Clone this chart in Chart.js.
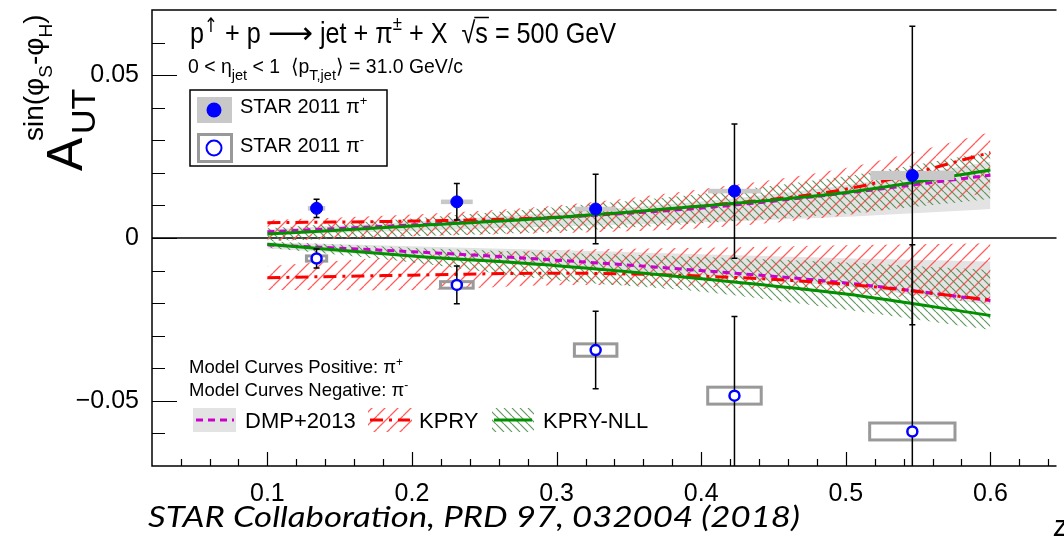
<!DOCTYPE html>
<html>
<head>
<meta charset="utf-8">
<script src="https://cdn.jsdelivr.net/npm/chart.js@4"></script>
<style>
  html, body { margin: 0; padding: 0; background: #fff; overflow: hidden; }
  canvas { display: block; }
</style>
</head>
<body>
<canvas id="c" width="1064" height="541"></canvas>
<script>
// STAR 2011 data points (z of the pion in the jet)
const zBins = [0.134, 0.231, 0.327, 0.423, 0.546];
const aPlus = [0.0091, 0.0111, 0.0089, 0.0144, 0.0192];
const statPlus = [0.0028, 0.0056, 0.0107, 0.0206, 0.0458];
const sysPlus = [0.0007, 0.0007, 0.0007, 0.0007, 0.0014];
const sysWidthPlus = [0.006, 0.011, 0.0143, 0.0183, 0.029];
const aMinus = [-0.0063, -0.0144, -0.0344, -0.0484, -0.0594];
const statMinus = [0.0029, 0.0058, 0.0119, 0.0243, 0.0573];
const sysMinus = [0.0008, 0.001, 0.0019, 0.0026, 0.0026];
const sysWidthMinus = [0.007, 0.0113, 0.0147, 0.0185, 0.0295];

// model curves
const zModel = [0.1, 0.2, 0.3, 0.4, 0.5, 0.6];
const dmpPos = [0.0019, 0.0040, 0.0063, 0.0092, 0.0138, 0.0193];
const dmpPosHi = [0.0027, 0.0050, 0.0078, 0.0112, 0.0162, 0.0234];
const dmpPosLo = [0.0009, 0.0022, 0.0035, 0.0048, 0.0065, 0.0089];
const dmpNeg = [-0.0021, -0.0042, -0.0068, -0.0100, -0.0138, -0.0192];
const dmpNegHi = [-0.0013, -0.0025, -0.0037, -0.0050, -0.0062, -0.0072];
const dmpNegLo = [-0.0032, -0.0058, -0.0088, -0.0115, -0.0150, -0.0205];
const kpryPos = [0.0047, 0.0052, 0.0064, 0.0098, 0.0150, 0.0262];
const kpryPosHi = [0.0055, 0.0072, 0.0100, 0.0150, 0.0215, 0.0325];
const kpryPosLo = [-0.0010, 0.0005, 0.0015, 0.0030, 0.0070, 0.0140];
const kpryNeg = [-0.0122, -0.0114, -0.0108, -0.0117, -0.0142, -0.0190];
const kpryNegHi = [-0.0086, -0.0055, -0.0037, -0.0030, -0.0022, -0.0016];
const kpryNegLo = [-0.0160, -0.0160, -0.0145, -0.0150, -0.0170, -0.0200];
const nllPos = [0.0012, 0.0037, 0.0063, 0.0098, 0.0140, 0.0209];
const nllPosHi = [0.0030, 0.0060, 0.0095, 0.0135, 0.0190, 0.0265];
const nllPosLo = [-0.0010, 0.0005, 0.0020, 0.0045, 0.0075, 0.0120];
const nllNeg = [-0.0019, -0.0055, -0.0085, -0.0125, -0.0172, -0.0238];
const nllNegHi = [-0.0010, -0.0030, -0.0045, -0.0058, -0.0075, -0.0098];
const nllNegLo = [-0.0030, -0.0075, -0.0130, -0.0165, -0.0220, -0.0282];

const xTicks = [0.1, 0.2, 0.3, 0.4, 0.5, 0.6];
const yTicks = [-0.05, 0, 0.05];

const FONT = '"Liberation Sans", Arial, sans-serif';
const canvas = document.getElementById('c');
const mainCtx = canvas.getContext('2d');

// hatch patterns like ROOT fill styles
function hatch(color, size, dir, lw) {
  const c = document.createElement('canvas');
  c.width = size; c.height = size;
  const g = c.getContext('2d');
  g.strokeStyle = color; g.lineWidth = lw;
  g.beginPath();
  for (let k = -1; k <= 1; k++) {
    if (dir > 0) { g.moveTo(k * size, size); g.lineTo(k * size + size, 0); }
    else { g.moveTo(k * size, 0); g.lineTo(k * size + size, size); }
  }
  g.stroke();
  return mainCtx.createPattern(c, 'repeat');
}
const redHatch = hatch('rgba(255,85,85,0.95)', 13, 1, 1.3);
const greenHatch = hatch('rgba(70,135,70,0.85)', 8, -1, 1.2);
const bandGray = '#e3e3e3';
const magenta = '#cc00cc', red = '#ff0000', green = '#009000';

const pts = arr => zModel.map((z, i) => ({ x: z, y: arr[i] }));

function band(hi, lo, fillStyle, order, idx) {
  return [
    { data: pts(hi), fill: idx + 1, backgroundColor: fillStyle, borderWidth: 0, pointRadius: 0, order: order, tension: 0.3 },
    { data: pts(lo), fill: false, borderWidth: 0, pointRadius: 0, order: order, tension: 0.3 }
  ];
}
function curve(arr, color, dash, order) {
  return { data: pts(arr), borderColor: color, borderWidth: 3, borderDash: dash, fill: false,
           pointRadius: 0, order: order, cubicInterpolationMode: 'monotone' };
}

const datasets = [
  ...band(dmpPosHi, dmpPosLo, bandGray, 60, 0),
  ...band(dmpNegHi, dmpNegLo, bandGray, 60, 2),
  ...band(kpryPosHi, kpryPosLo, redHatch, 50, 4),
  ...band(kpryNegHi, kpryNegLo, redHatch, 50, 6),
  ...band(nllPosHi, nllPosLo, greenHatch, 40, 8),
  ...band(nllNegHi, nllNegLo, greenHatch, 40, 10),
  curve(dmpPos, magenta, [7, 5], 30),
  curve(dmpNeg, magenta, [7, 5], 30),
  curve(kpryPos, red, [13, 6, 3, 6], 25),
  curve(kpryNeg, red, [13, 6, 3, 6], 25),
  curve(nllPos, green, [], 20),
  curve(nllNeg, green, [], 20),
  { data: zBins.map((z, i) => ({ x: z, y: aPlus[i] })), showLine: false, pointRadius: 6,
    pointBackgroundColor: '#0000ff', pointBorderColor: '#0000ff', pointBorderWidth: 1, order: 0 },
  { data: zBins.map((z, i) => ({ x: z, y: aMinus[i] })), showLine: false, pointRadius: 5,
    pointBackgroundColor: '#ffffff', pointBorderColor: '#0000ff', pointBorderWidth: 2.5, order: 1 }
];
const MINUS_IDX = datasets.length - 1;

// rich text: runs of {t, size, dy, font, sx}; returns the start x of every run plus the end
function runs(ctx, x, y, list, sx) {
  sx = sx || 1;
  ctx.textBaseline = 'alphabetic';
  ctx.textAlign = 'left';
  const xs = [];
  for (const r of list) {
    const o = typeof r === 'string' ? { t: r } : r;
    const s = sx * (o.sx || 1);
    ctx.font = (o.size || 20) + 'px ' + (o.font || FONT);
    xs.push(x);
    ctx.save();
    ctx.translate(x, y + (o.dy || 0));
    ctx.scale(s, 1);
    ctx.fillText(o.t, 0, 0);
    ctx.restore();
    x += ctx.measureText(o.t).width * s;
  }
  xs.push(x);
  return xs;
}

function drawErrors(chart) {
  const { ctx, chartArea: a } = chart;
  const x = chart.scales.x, y = chart.scales.y;
  ctx.save();
  ctx.beginPath();
  ctx.rect(a.left, a.top, a.right - a.left, a.bottom - a.top);
  ctx.clip();
  zBins.forEach((z, i) => {
    // systematic boxes
    const xl = x.getPixelForValue(z - sysWidthPlus[i]), xr = x.getPixelForValue(z + sysWidthPlus[i]);
    const yt = y.getPixelForValue(aPlus[i] + sysPlus[i]), yb = y.getPixelForValue(aPlus[i] - sysPlus[i]);
    ctx.fillStyle = '#c8c8c8';
    ctx.fillRect(xl, yt, xr - xl, yb - yt);
    const ml = x.getPixelForValue(z - sysWidthMinus[i]), mr = x.getPixelForValue(z + sysWidthMinus[i]);
    const mt = y.getPixelForValue(aMinus[i] + sysMinus[i]), mb = y.getPixelForValue(aMinus[i] - sysMinus[i]);
    ctx.strokeStyle = '#999999';
    ctx.lineWidth = 3;
    ctx.strokeRect(ml, mt, mr - ml, mb - mt);
  });
  ctx.strokeStyle = '#000';
  ctx.lineWidth = 1.5;
  const bar = (z, v, e) => {
    const px = x.getPixelForValue(z);
    const top = y.getPixelForValue(v + e), bot = y.getPixelForValue(v - e);
    ctx.beginPath();
    ctx.moveTo(px, top); ctx.lineTo(px, bot);
    ctx.moveTo(px - 3, top); ctx.lineTo(px + 3, top);
    ctx.moveTo(px - 3, bot); ctx.lineTo(px + 3, bot);
    ctx.stroke();
  };
  zBins.forEach((z, i) => {
    bar(z, aPlus[i], statPlus[i]);
    bar(z, aMinus[i], statMinus[i]);
  });
  ctx.restore();
}

const starPlugin = {
  id: 'star',
  beforeDatasetsDraw(chart) {
    const { ctx, chartArea: a } = chart;
    const y0 = chart.scales.y.getPixelForValue(0);
    ctx.save();
    ctx.strokeStyle = '#000';
    ctx.lineWidth = 1.5;
    ctx.beginPath();
    ctx.moveTo(a.left, y0); ctx.lineTo(a.right, y0);
    ctx.stroke();
    ctx.restore();
  },
  beforeDatasetDraw(chart, args) {
    if (args.index === MINUS_IDX) drawErrors(chart);
  },
  afterDraw(chart) {
    const { ctx, chartArea: a } = chart;
    const x = chart.scales.x, y = chart.scales.y;
    ctx.save();
    ctx.strokeStyle = '#000';
    ctx.lineWidth = 1.5;
    // frame (right side is cut off in the original)
    ctx.beginPath();
    ctx.moveTo(a.right, a.top); ctx.lineTo(a.left, a.top);
    ctx.lineTo(a.left, a.bottom); ctx.lineTo(a.right, a.bottom);
    ctx.stroke();
    // ticks inside the frame
    ctx.lineWidth = 1.2;
    ctx.beginPath();
    for (let k = 2; k <= 32; k++) {
      const px = Math.round(x.getPixelForValue(k * 0.02)) + 0.5;
      const len = k % 5 === 0 ? 14 : 7;
      ctx.moveTo(px, a.bottom); ctx.lineTo(px, a.bottom - len);
    }
    for (let k = -6; k <= 6; k++) {
      const py = Math.round(y.getPixelForValue(k * 0.01)) + 0.5;
      const len = k % 5 === 0 ? 25 : 13;
      ctx.moveTo(a.left, py); ctx.lineTo(a.left + len, py);
    }
    ctx.stroke();

    ctx.fillStyle = '#000';
    // title lines (condensed, as in the original)
    const tx = runs(ctx, 190, 43, [
      { t: 'p', size: 30 }, { t: '\u2191', size: 20, dy: -11, font: '"DejaVu Sans"' },
      { t: ' + p ', size: 30 }, { t: '\u27f6', size: 30, font: '"DejaVu Sans"', sx: 1.25 },
      { t: ' jet + \u03c0', size: 30 }, { t: '\u00b1', size: 20, dy: -13 },
      { t: ' + X  \u221a', size: 30 }, { t: 's', size: 30 }, { t: ' = 500 GeV', size: 30 }
    ], 0.84);
    ctx.lineWidth = 1.5;
    ctx.beginPath();
    ctx.moveTo(tx[7] - 1, 17.5); ctx.lineTo(tx[8] + 1, 17.5);
    ctx.stroke();
    runs(ctx, 188, 73, [
      { t: '0 < \u03b7', size: 20 }, { t: 'jet', size: 15, dy: 7 },
      { t: ' < 1  \u27e8p', size: 20 }, { t: 'T,jet', size: 15, dy: 7 },
      { t: '\u27e9 = 31.0 GeV/c', size: 20 }
    ], 0.97);

    // data legend
    ctx.lineWidth = 1.5;
    ctx.strokeStyle = '#000';
    ctx.strokeRect(190, 90, 197, 76);
    ctx.fillStyle = '#c8c8c8';
    ctx.fillRect(197, 97, 35, 26);
    ctx.fillStyle = '#0000ff';
    ctx.beginPath(); ctx.arc(214, 110, 7.5, 0, Math.PI * 2); ctx.fill();
    ctx.strokeStyle = '#999999';
    ctx.lineWidth = 3;
    ctx.strokeRect(198.5, 134.5, 33, 27);
    ctx.strokeStyle = '#0000ff';
    ctx.lineWidth = 2;
    ctx.beginPath(); ctx.arc(214, 148, 7.5, 0, Math.PI * 2); ctx.stroke();
    ctx.fillStyle = '#000';
    runs(ctx, 240, 113, [{ t: 'STAR 2011 \u03c0', size: 20 }, { t: '+', size: 13, dy: -8 }]);
    runs(ctx, 240, 152, [{ t: 'STAR 2011 \u03c0', size: 20 }, { t: '-', size: 13, dy: -8 }]);

    // model legend
    runs(ctx, 189, 373, [{ t: 'Model Curves Positive: \u03c0', size: 18.5 }, { t: '+', size: 12, dy: -7 }]);
    runs(ctx, 189, 396, [{ t: 'Model Curves Negative: \u03c0', size: 18.5 }, { t: '-', size: 12, dy: -7 }]);
    ctx.fillStyle = bandGray;
    ctx.fillRect(193, 408, 43, 24);
    ctx.fillStyle = redHatch;
    ctx.fillRect(368, 408, 44, 24);
    ctx.fillStyle = greenHatch;
    ctx.fillRect(492, 408, 42, 24);
    ctx.lineWidth = 3;
    const seg = (x1, x2, color, dash) => {
      ctx.strokeStyle = color; ctx.setLineDash(dash);
      ctx.beginPath(); ctx.moveTo(x1, 420); ctx.lineTo(x2, 420); ctx.stroke();
    };
    seg(196, 234, magenta, [7, 5]);
    seg(370, 410, red, [13, 6, 3, 6]);
    seg(494, 532, green, []);
    ctx.setLineDash([]);
    ctx.fillStyle = '#000';
    runs(ctx, 245, 428, [{ t: 'DMP+2013', size: 22 }]);
    runs(ctx, 419, 428, [{ t: 'KPRY', size: 22 }]);
    runs(ctx, 543, 428, [{ t: 'KPRY-NLL', size: 22 }]);

    // y axis title, rotated
    ctx.save();
    ctx.rotate(-Math.PI / 2);
    runs(ctx, -171, 82, [{ t: 'A', size: 50 }]);
    runs(ctx, -134, 95, [{ t: 'UT', size: 34 }]);
    runs(ctx, -141, 43, [
      { t: 'sin(\u03c6', size: 28 }, { t: 'S', size: 19, dy: 9 },
      { t: '-\u03c6', size: 28 }, { t: 'H', size: 19, dy: 9 }, { t: ')', size: 28 }
    ]);
    ctx.restore();

    // citation under the axis, italic and stretched to the original width
    ctx.font = 'italic 28px Lato, ' + FONT;
    const cite = 'STAR Collaboration, PRD 97, 032004 (2018)';
    const w = ctx.measureText(cite).width;
    ctx.save();
    ctx.translate(148, 527);
    ctx.scale(652 / w, 1);
    ctx.fillText(cite, 0, 0);
    ctx.restore();
    ctx.font = 'italic 30px Lato, ' + FONT;
    ctx.fillText('z', 1054, 536);
    ctx.restore();
  }
};

new Chart(canvas, {
  type: 'line',
  data: { datasets: datasets },
  options: {
    responsive: false,
    animation: false,
    devicePixelRatio: 1,
    layout: { padding: { top: 10, left: 0, right: 0, bottom: 0 } },
    plugins: { legend: { display: false }, tooltip: { enabled: false } },
    scales: {
      x: {
        type: 'linear', min: 0.0202, max: 0.6457,
        grid: { display: false }, border: { display: false },
        ticks: { font: { family: FONT, size: 25 }, color: '#000', padding: 5, maxRotation: 0, autoSkip: false,
                 callback: v => v.toFixed(1) },
        afterBuildTicks: s => { s.ticks = xTicks.map(v => ({ value: v })); },
        afterFit: s => { s.height = 75; s.paddingLeft = 0; s.paddingRight = 0; }
      },
      y: {
        min: -0.07, max: 0.07,
        grid: { display: false }, border: { display: false },
        ticks: { font: { family: FONT, size: 25 }, color: '#000', padding: 5,
                 callback: v => Math.abs(v) < 1e-9 ? '0' : (v < 0 ? '\u22120.05' : '0.05') },
        afterBuildTicks: s => { s.ticks = yTicks.map(v => ({ value: v })); },
        afterFit: s => { s.width = 152; s.paddingTop = 0; s.paddingBottom = 0; }
      }
    }
  },
  plugins: [starPlugin]
});
</script>
</body>
</html>
